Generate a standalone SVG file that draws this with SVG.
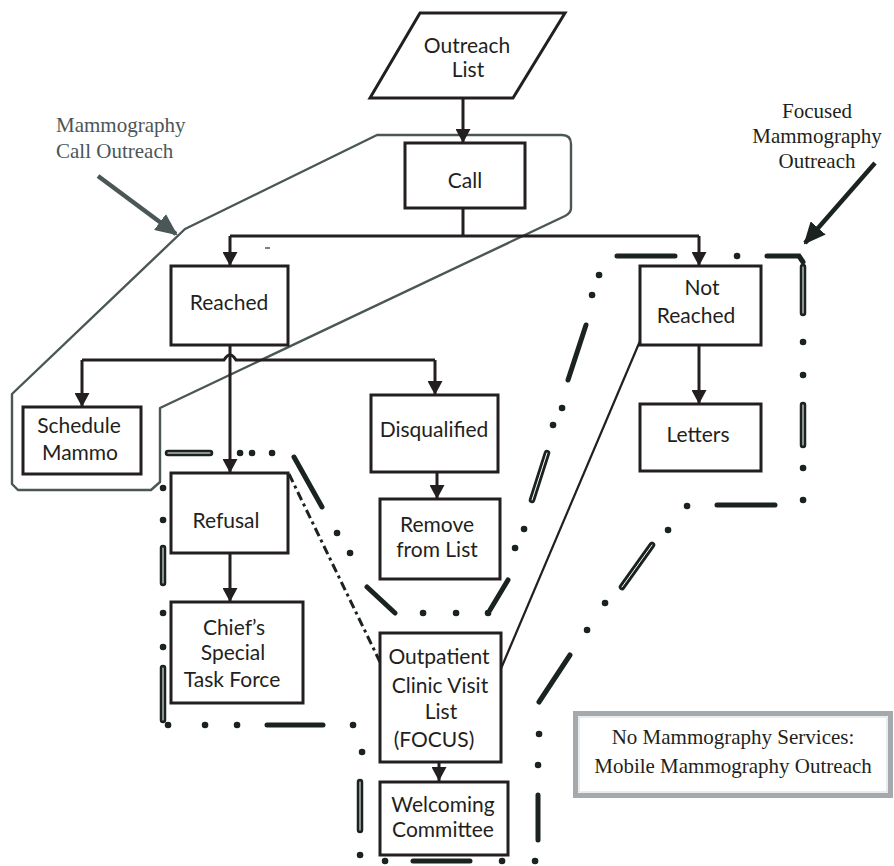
<svg xmlns="http://www.w3.org/2000/svg" xmlns:xlink="http://www.w3.org/1999/xlink" width="894" height="866" viewBox="0 0 894 866">
<style>
.box{fill:#fff;stroke:#231f20;stroke-width:3}
.t{font-family:Lato,"Liberation Sans",sans-serif;font-size:21px;fill:#231f20;text-anchor:middle}
.s{font-family:"Liberation Serif","Times New Roman",serif;font-size:21px;text-anchor:middle}
.c{fill:none;stroke:#231f20;stroke-width:3}
.dash{fill:none;stroke:#1b2320;stroke-width:5;stroke-linecap:round}
.dot{fill:none;stroke:#1b2320;stroke-width:6.5;stroke-linecap:round}
.hol{fill:none;stroke:#1b2320;stroke-width:6.5;stroke-linecap:round}
.holw{fill:none;stroke:#fff;stroke-width:1;stroke-linecap:round}
</style>
<defs>
<marker id="ah" markerUnits="userSpaceOnUse" viewBox="0 0 14 15" markerWidth="14" markerHeight="15" refX="14" refY="7.5" orient="auto">
<path d="M0,0 L14,7.5 L0,15 z" fill="#231f20"/>
</marker>
<marker id="ahg" markerUnits="userSpaceOnUse" viewBox="0 0 22 20" markerWidth="22" markerHeight="20" refX="20" refY="10" orient="auto">
<path d="M0,0 L22,10 L0,20 z" fill="#4b5656"/>
</marker>
<marker id="ahb" markerUnits="userSpaceOnUse" viewBox="0 0 22 20" markerWidth="22" markerHeight="20" refX="20" refY="10" orient="auto">
<path d="M0,0 L22,10 L0,20 z" fill="#1b2320"/>
</marker>
<path id="h1" d="M803 267 V313"/>
<path id="h2" d="M803 405 V445"/>
<path id="h3" d="M652 545 L622 587"/>
<path id="h4" d="M360 782 V830"/>
<path id="h5" d="M163 668 V720"/>
<path id="h6" d="M163 548 V583"/>
<path id="h7" d="M168 453 H210"/>
<path id="h8" d="M547 453 L532 500"/>
</defs>

<g id="regions">
<g id="call-outreach-region">
<path d="M185 229 L377 135 L562 135 Q571 135 571 144 L571 208 Q571 213 565 216 L160 408 L160 482 L151 490 L18 490 L12 484 L12 394 Z" fill="none" stroke="#4b5656" stroke-width="2.4" stroke-linejoin="round"/>
</g>
<g id="focused-region">
<path class="dash" d="M617 256 H675 M767 256 H799 L803 262 M717 505 H775 M570 655 L539 702 M538 795 V840 M413 861 H470 M267 725 H323 M294 457 L322 507 M367 587 L395 613 M508 580 L490 610 M586 325 L568 380"/>
<path class="dot" d="M737 256 h0.1 M803 342 h0.1 M803 375 h0.1 M803 468 h0.1 M803 500 h0.1 M687 506 h0.1 M668 530 h0.1 M605 603 h0.1 M587 630 h0.1 M539 734 h0.1 M538 765 h0.1 M535 861 h0.1 M502 861 h0.1 M385 861 h0.1 M360 855 h0.1 M362 752 h0.1 M353 725 h0.1 M237 725 h0.1 M205 725 h0.1 M168 725 h0.1 M163 647 h0.1 M163 613 h0.1 M163 520 h0.1 M163 488 h0.1 M240 453 h0.1 M252 453 h0.1 M272 453 h0.1 M337 533 h0.1 M350 553 h0.1 M423 613 h0.1 M456 613 h0.1 M488 613 h0.1 M515 548 h0.1 M524 529 h0.1 M553 425 h0.1 M562 408 h0.1 M592 295 h0.1 M599 275 h0.1"/>
<use xlink:href="#h1" class="hol"/><use xlink:href="#h1" class="holw"/>
<use xlink:href="#h2" class="hol"/><use xlink:href="#h2" class="holw"/>
<use xlink:href="#h3" class="hol"/><use xlink:href="#h3" class="holw"/>
<use xlink:href="#h4" class="hol"/><use xlink:href="#h4" class="holw"/>
<use xlink:href="#h5" class="hol"/><use xlink:href="#h5" class="holw"/>
<use xlink:href="#h6" class="hol"/><use xlink:href="#h6" class="holw"/>
<use xlink:href="#h7" class="hol"/><use xlink:href="#h7" class="holw"/>
<use xlink:href="#h8" class="hol"/><use xlink:href="#h8" class="holw"/>
<path d="M289 474 L380 662" fill="none" stroke="#1b2320" stroke-width="3" stroke-dasharray="9 4 3 4"/>
</g>
</g>

<g id="connectors">
<path class="c" d="M463 98 V143" marker-end="url(#ah)"/>
<path class="c" d="M463 208 V236 M230 236 H699"/>
<path class="c" d="M230 236 V266" marker-end="url(#ah)"/>
<path class="c" d="M699 236 V266" marker-end="url(#ah)"/>
<path class="c" d="M230 345 V473" marker-end="url(#ah)"/>
<path class="c" d="M82 360 H224 Q230 350 236 360 H435"/>
<path class="c" d="M82 360 V407" marker-end="url(#ah)"/>
<path class="c" d="M435 360 V395" marker-end="url(#ah)"/>
<path class="c" d="M437 472 V499" marker-end="url(#ah)"/>
<path class="c" d="M230 553 V602" marker-end="url(#ah)"/>
<path class="c" d="M699 345 V404" marker-end="url(#ah)"/>
<path class="c" d="M439 762 V781" marker-end="url(#ah)"/>
<path d="M640 341 L500 671" fill="none" stroke="#231f20" stroke-width="2.2"/>
<path d="M265 248 H270" stroke="#555" stroke-width="1.5"/>
<path d="M98 176 L176 234" stroke="#4b5656" stroke-width="4.5" marker-end="url(#ahg)"/>
<path d="M875 163 L805 243" stroke="#1b2320" stroke-width="4.5" marker-end="url(#ahb)"/>
</g>

<g id="outreach-list">
<path class="box" d="M420 13 H565 L513 98 H370 Z"/>
<text class="t" x="467" y="53">Outreach</text>
<text class="t" x="468" y="77">List</text>
</g>
<g id="call">
<rect class="box" x="405" y="143" width="120" height="65"/>
<text class="t" x="465" y="188">Call</text>
</g>
<g id="reached">
<rect class="box" x="171" y="266" width="117" height="79"/>
<text class="t" x="229" y="310">Reached</text>
</g>
<g id="not-reached">
<rect class="box" x="640" y="266" width="121" height="79"/>
<text class="t" x="702" y="295">Not</text>
<text class="t" x="696" y="323">Reached</text>
</g>
<g id="letters">
<rect class="box" x="640" y="404" width="121" height="67"/>
<text class="t" x="698" y="442">Letters</text>
</g>
<g id="schedule-mammo">
<rect class="box" x="23" y="407" width="118" height="67"/>
<text class="t" x="79" y="433">Schedule</text>
<text class="t" x="80" y="460">Mammo</text>
</g>
<g id="disqualified">
<rect class="box" x="371" y="395" width="127" height="77"/>
<text class="t" x="434" y="437">Disqualified</text>
</g>
<g id="refusal">
<rect class="box" x="171" y="473" width="117" height="80"/>
<text class="t" x="226" y="528">Refusal</text>
</g>
<g id="remove-from-list">
<rect class="box" x="380" y="499" width="120" height="80"/>
<text class="t" x="437" y="532">Remove</text>
<text class="t" x="437" y="557">from List</text>
</g>
<g id="chiefs-task-force">
<rect class="box" x="171" y="602" width="132" height="101"/>
<text class="t" x="234" y="635">Chief’s</text>
<text class="t" x="233" y="660">Special</text>
<text class="t" x="232" y="687">Task Force</text>
</g>
<g id="outpatient-clinic">
<rect class="box" x="380" y="633" width="121" height="129"/>
<text class="t" x="439" y="664">Outpatient</text>
<text class="t" x="440" y="693">Clinic Visit</text>
<text class="t" x="441" y="719">List</text>
<text class="t" x="434" y="747">(FOCUS)</text>
</g>
<g id="welcoming-committee">
<rect class="box" x="380" y="782" width="128" height="73"/>
<text class="t" x="443" y="812">Welcoming</text>
<text class="t" x="443" y="837">Committee</text>
</g>

<g id="label-call-outreach">
<text class="s" x="56" y="132" fill="#4b5656" style="text-anchor:start">Mammography</text>
<text class="s" x="56" y="158" fill="#4b5656" style="text-anchor:start">Call Outreach</text>
</g>
<g id="label-focused">
<text class="s" x="817" y="118" fill="#231f20">Focused</text>
<text class="s" x="817" y="143" fill="#231f20">Mammography</text>
<text class="s" x="817" y="168" fill="#231f20">Outreach</text>
</g>
<g id="no-mammography-box">
<rect x="575.5" y="713.5" width="315" height="82" fill="#fff" stroke="#a4a9ae" stroke-width="5"/>
<rect x="579" y="717" width="308" height="75" fill="none" stroke="#d4d7da" stroke-width="1"/>
<text class="s" x="733" y="744" fill="#231f20">No Mammography Services:</text>
<text class="s" x="733" y="773" fill="#231f20">Mobile Mammography Outreach</text>
</g>
</svg>
